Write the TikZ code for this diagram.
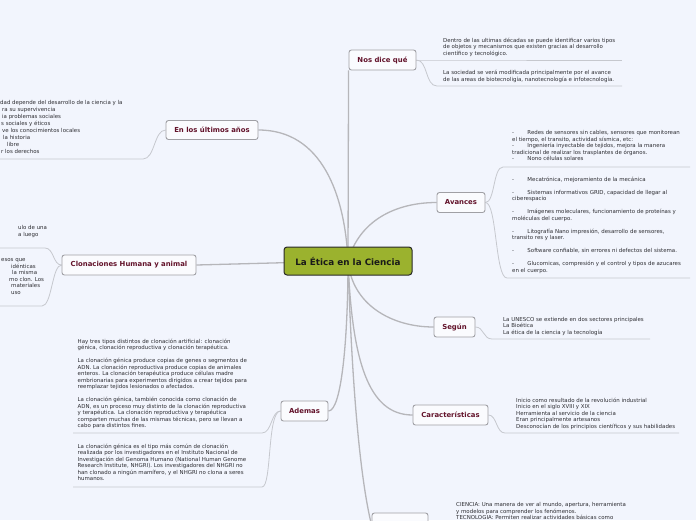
\documentclass[tikz,border=0pt]{standalone}
\usepackage{fontspec}
\setmainfont{DejaVu Sans}
\definecolor{bgcol}{RGB}{242,245,253}
\definecolor{topicfill}{RGB}{250,251,254}
\definecolor{topicborder}{RGB}{160,160,165}
\definecolor{topictext}{RGB}{98,18,42}
\definecolor{centfill}{RGB}{155,178,46}
\definecolor{centborder}{RGB}{40,40,40}
\definecolor{leaftext}{RGB}{45,45,50}
\definecolor{mainline}{RGB}{182,182,186}
\definecolor{leafline}{RGB}{198,200,206}
\newcommand\tabdash{-\hspace{13.3pt}}
\pgfdeclarelayer{bg}
\pgfsetlayers{bg,main}
\tikzset{
 topic/.style={draw=topicborder, fill=topicfill, rounded corners=2.5pt, line width=0.9pt, text=topictext, font=\bfseries\fontsize{6.9}{8}\selectfont, inner sep=0pt, minimum height=20pt},
 central/.style={draw=centborder, fill=centfill, rounded corners=3pt, line width=1pt, text=black!90, font=\bfseries\fontsize{8.8}{10}\selectfont, inner sep=0pt, minimum width=128pt, minimum height=28pt},
 leaf/.style={anchor=north west, inner sep=0pt, align=left, text=leaftext, font=\fontsize{5.45}{6.5}\selectfont, execute at begin node={\rule{0pt}{4.8pt}}},
 mainconn/.style={draw=mainline, line width=1.3pt},
 leafconn/.style={draw=leafline, line width=0.8pt},
}
\begin{document}
\begin{tikzpicture}[x=1pt,y=-1pt]
\useasboundingbox (0,0) rectangle (696,520);
\clip (0,0) rectangle (696,520);
\begin{pgfonlayer}{bg}
\fill[bgcol] (0,0) rectangle (696,520);
\end{pgfonlayer}

% main nodes
\node[central] (cen) at (348,261) {La Ética en la Ciencia};
\node[topic, minimum width=67pt] (nos) at (382.5,60) {Nos dice qué};
\node[topic, minimum width=92pt, minimum height=19pt] (en) at (212,130) {En los últimos años};
\node[topic, minimum width=48pt] (av) at (461,202.5) {Avances};
\node[topic, minimum width=134pt] (clo) at (129,265) {Clonaciones Humana y animal};
\node[topic, minimum width=41pt] (seg) at (454.5,327) {Según};
\node[topic, minimum width=47pt] (ade) at (304.5,411) {Ademas};
\node[topic, minimum width=75pt] (kar) at (450.5,415) {Características};
\node[topic, minimum width=56pt, minimum height=24pt] (bot) at (400,525) {};

% leaf texts
\node[leaf] (l1) at (443,37.6) {Dentro de las ultimas décadas se puede identificar varios tipos\\de objetos y mecanismos que existen gracias al desarrollo\\científico y tecnológico.};
\node[leaf] (l2) at (443,70.1) {La sociedad se verá modificada principalmente por el avance\\de las areas de biotecnoligía, nanotecnología e infotecnología.};
\node[leaf] (a1) at (512,130.6) {\tabdash Redes de sensores sin cables, sensores que monitorean\\el tiempo, el transito, actividad sísmica, etc:\\\tabdash Ingeniería inyectable de tejidos, mejora la manera\\tradicional de realizar los trasplantes de órganos.\\\tabdash Nono células solares};
\node[leaf] (a2) at (512,176.6) {\tabdash Mecatrónica, mejoramiento de la mecánica\\\mbox{}\\\tabdash Sistemas informativos GRID, capacidad de llegar al\\ciberespacio\\\mbox{}\\\tabdash Imágenes moleculares, funcionamiento de proteínas y\\moléculas del cuerpo.\\\mbox{}\\\tabdash Litografía Nano impresión, desarrollo de sensores,\\transito res y laser.\\\mbox{}\\\tabdash Software confiable, sin errores ni defectos del sistema.\\\mbox{}\\\tabdash Glucomicas, compresión y el control y tipos de azucares\\en el cuerpo.};
\node[leaf] (s1) at (503,317.1) {La UNESCO se extiende en dos sectores principales\\La Bioética\\La ética de la ciencia y la tecnología};
\node[leaf] (k1) at (516,397.6) {Inicio como resultado de la revolución industrial\\Inicio en el siglo XVIII y XIX\\Herramienta al servicio de la ciencia\\Eran principalmente artesanos\\Desconocían de los principios científicos y sus habilidades};
\node[leaf] (b1) at (456,502.6) {CIENCIA: Una manera de ver al mundo, apertura, herramienta\\y modelos para comprender los fenómenos.\\TECNOLOGIA: Permiten realizar actividades básicas como};
\node[leaf, font=\fontsize{5.45}{7}\selectfont] (e1) at (0,100.6) {dad depende del desarrollo de la ciencia y la\\\hspace*{2pt}ra su supervivencia\\\hspace*{2pt}ia problemas sociales\\\hspace*{1pt}s sociales y éticos\\\hspace*{2pt}ve los conocimientos locales\\\hspace*{3pt}la historia\\\hspace*{7pt}libre\\\hspace*{1pt}r los derechos};
\node[leaf] (c1) at (0,225.6) {\hspace*{18pt}ulo de una\\\hspace*{18pt}a luego};
\node[leaf] (c2) at (0,258.6) {\hspace*{1pt}esos que\\\hspace*{11pt}idénticas\\\hspace*{12pt}la misma\\\hspace*{9pt}mo clon. Los\\\hspace*{11pt}materiales\\\hspace*{11pt}uso};
\node[leaf] (d1) at (77.5,338.6) {Hay tres tipos distintos de clonación artificial: clonación\\génica, clonación reproductiva y clonación terapéutica.\\\mbox{}\\La clonación génica produce copias de genes o segmentos de\\ADN. La clonación reproductiva produce copias de animales\\enteros. La clonación terapéutica produce células madre\\embrionarias para experimentos dirigidos a crear tejidos para\\reemplazar tejidos lesionados o afectados.\\\mbox{}\\La clonación génica, también conocida como clonación de\\ADN, es un proceso muy distinto de la clonación reproductiva\\y terapéutica. La clonación reproductiva y terapéutica\\comparten muchas de las mismas técnicas, pero se llevan a\\cabo para distintos fines.};
\node[leaf] (d2) at (77.5,443.6) {La clonación génica es el tipo más común de clonación\\realizada por los investigadores en el Instituto Nacional de\\Investigación del Genoma Humano (National Human Genome\\Research Institute, NHGRI). Los investigadores del NHGRI no\\han clonado a ningún mamífero, y el NHGRI no clona a seres\\humanos.};

% underline coordinates
\coordinate (l1a) at (433,60);   \coordinate (l1b) at (622,60);
\coordinate (l2a) at (437,86);   \coordinate (l2b) at (622,86);
\coordinate (a1a) at (503,167);  \coordinate (a1b) at (690,167);
\coordinate (a2a) at (507,278);  \coordinate (a2b) at (690,278);
\coordinate (s1a) at (492,339);  \coordinate (s1b) at (650,339);
\coordinate (k1a) at (505,433);  \coordinate (k1b) at (679,433);
\coordinate (e1a) at (143,159);  \coordinate (e1b) at (0,159);
\coordinate (c1a) at (45,248);   \coordinate (c1b) at (0,248);
\coordinate (c2a) at (42,306);   \coordinate (c2b) at (0,306);
\coordinate (d1a) at (262,433);  \coordinate (d1b) at (73,433);
\coordinate (d2a) at (262,487);  \coordinate (d2b) at (73,487);

\begin{pgfonlayer}{bg}
% main connectors
\draw[mainconn] (cen.center) -- (nos.south west);
\draw[mainconn] (cen.center) .. controls (345,195) and (322,130) .. (en.east);
\draw[mainconn] (cen.center) .. controls (359,221) and (395,202.5) .. (av.west);
\draw[mainconn] (cen.center) -- (clo.east);
\draw[mainconn] (cen.center) .. controls (352,305) and (392,327) .. (seg.west);
\draw[mainconn] (cen.center) .. controls (352,360) and (368,415) .. (kar.west);
\draw[mainconn] (cen.center) .. controls (348,335) and (342,411) .. (ade.east);
\draw[mainconn] (cen.center) .. controls (351,360) and (358,470) .. (bot.west);
% leaf connectors
\draw[leafconn] (nos.east) -- (l1a) -- (l1b);
\draw[leafconn] (nos.east) .. controls (428,60) and (425,86) .. (l2a) -- (l2b);
\draw[leafconn] (av.east) .. controls (495,202.5) and (493,167) .. (a1a) -- (a1b);
\draw[leafconn] (av.east) .. controls (497,202.5) and (495,278) .. (a2a) -- (a2b);
\draw[leafconn] (seg.east) .. controls (484,327) and (483,339) .. (s1a) -- (s1b);
\draw[leafconn] (kar.east) .. controls (497,415) and (496,433) .. (k1a) -- (k1b);
\draw[leafconn] (en.west) .. controls (154,130) and (155,159) .. (e1a) -- (e1b);
\draw[leafconn] (clo.west) .. controls (53,265) and (54,248) .. (c1a) -- (c1b);
\draw[leafconn] (clo.west) .. controls (52,265) and (52,306) .. (c2a) -- (c2b);
\draw[leafconn] (ade.west) .. controls (271,411) and (272,433) .. (d1a) -- (d1b);
\draw[leafconn] (ade.west) .. controls (267,411) and (272,487) .. (d2a) -- (d2b);
\end{pgfonlayer}
\end{tikzpicture}
\end{document}
